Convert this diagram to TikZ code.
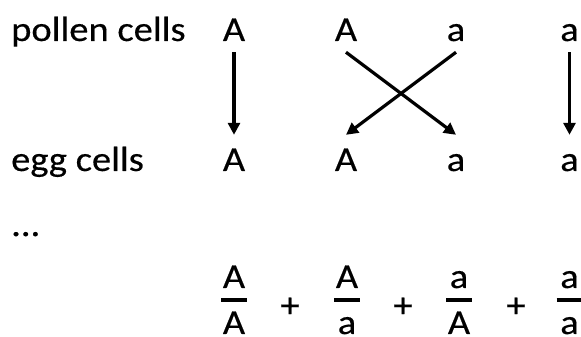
\documentclass[tikz,border=0pt]{standalone}
\usepackage{fontspec}
\setmainfont[FakeStretch=1.1,FakeBold=0.4]{Carlito}
\usetikzlibrary{arrows.meta}
\begin{document}
\begin{tikzpicture}[x=1pt,y=1pt,
  lbl/.style={font=\fontsize{35}{42}\selectfont, inner sep=0pt},
  allele/.style={lbl, text height=36pt, text depth=11pt, anchor=base},
  fracpart/.style={lbl, text depth=0pt, anchor=base},
  arr/.style={line width=3.2pt, -{Triangle[length=12pt,width=12pt]}},
  fracbar/.style={line width=3.2pt}]
\useasboundingbox (0,0) rectangle (581,337);
% row labels
\node[lbl, anchor=base west] (pollen) at (11,296) {pollen cells};
\node[lbl, anchor=base west] (egg) at (11,166) {egg cells};
\node[lbl, anchor=base west] (dots) at (11,101) {...};
% pollen alleles
\node[allele] (p1) at (234,296) {A};
\node[allele] (p2) at (346,296) {A};
\node[allele] (p3) at (456,296) {a};
\node[allele] (p4) at (569.5,296) {a};
% egg alleles
\node[allele] (e1) at (234,166) {A};
\node[allele] (e2) at (346,166) {A};
\node[allele] (e3) at (456,166) {a};
\node[allele] (e4) at (569.5,166) {a};
% arrows
\draw[arr] (p1.south) -- (e1.north);
\draw[arr] (p2.south) -- (e3.north);
\draw[arr] (p3.south) -- (e2.north);
\draw[arr] (p4.south) -- (e4.north);
% fractions
\foreach \x/\n/\d/\i in {234/A/A/1, 347/A/a/2, 459/a/A/3, 569.5/a/a/4}{
  \node[fracpart] (num\i) at (\x,49) {\n};
  \node[fracpart] (den\i) at (\x,3) {\d};
  \draw[fracbar] (\x-13,37) -- (\x+13,37);
}
\node[lbl, anchor=base] (plus1) at (290,20) {+};
\node[lbl, anchor=base] (plus2) at (403,20) {+};
\node[lbl, anchor=base] (plus3) at (516,20) {+};
\end{tikzpicture}
\end{document}
